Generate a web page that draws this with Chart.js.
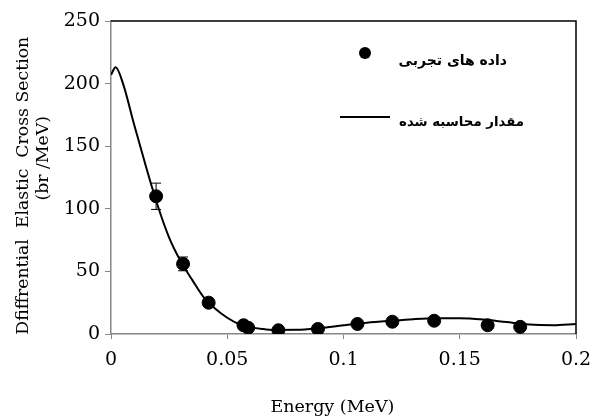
<!DOCTYPE html>
<html><head><meta charset="utf-8">
<script src="https://cdn.jsdelivr.net/npm/chart.js@4"></script>
<style>html,body{margin:0;padding:0;background:#fff}#c{display:block}</style>
</head><body>
<div style="width:590px;height:416px"><canvas id="c"></canvas></div>
<script>
const expEnergy = [0.0194, 0.031, 0.042, 0.057, 0.059, 0.072, 0.089, 0.106, 0.121, 0.139, 0.162, 0.176];
const expValues = [110, 56, 25, 7, 5, 3, 4, 8, 9.8, 10.6, 7, 5.7];
const expErrors = [10.5, 5.5, 2.5, 1, 1, 0.5, 0.5, 1, 1, 1, 1, 1];
const calcEnergy = [0, 0.002, 0.005, 0.01, 0.015, 0.02, 0.025, 0.03, 0.035, 0.04, 0.045, 0.05, 0.055, 0.06, 0.065, 0.07, 0.08, 0.09, 0.1, 0.11, 0.12, 0.13, 0.14, 0.15, 0.16, 0.17, 0.18, 0.19, 0.2];
const calcValues = [207, 213, 201, 167, 134, 103, 77, 58, 43, 29, 20, 13, 8, 5.5, 4, 3.2, 3.3, 4.8, 7, 9, 10.5, 11.8, 12.5, 12.5, 11.5, 9.5, 7.5, 7, 8];
const xTicks = [0, 0.05, 0.1, 0.15, 0.2];
const yTicks = [0, 50, 100, 150, 200, 250];
const legendLabels = ['داده های تجربی', 'مقدار محاسبه شده'];
const xTitle = 'Energy (MeV)\u00a0\u00a0\u00a0\u00a0';
const yTitle = ['Dfiffrential  Elastic  Cross Section\u00a0\u00a0\u00a0', '\u00a0\u00a0\u00a0\u00a0\u00a0\u00a0\u00a0(br /MeV)'];

const serif = "'DejaVu Serif', 'Liberation Serif', serif";

const extras = {
  id: 'extras',
  afterDatasetsDraw(chart) {
    const ctx = chart.ctx, xs = chart.scales.x, ys = chart.scales.y, a = chart.chartArea;
    ctx.save();
    ctx.strokeStyle = '#000'; ctx.lineWidth = 1;
    expEnergy.forEach((e, i) => {
      const px = xs.getPixelForValue(e);
      const t = ys.getPixelForValue(expValues[i] + expErrors[i]);
      const b = ys.getPixelForValue(expValues[i] - expErrors[i]);
      ctx.beginPath();
      ctx.moveTo(px, t); ctx.lineTo(px, b);
      ctx.moveTo(px - 5, t); ctx.lineTo(px + 5, t);
      ctx.moveTo(px - 5, b); ctx.lineTo(px + 5, b);
      ctx.stroke();
    });
    ctx.strokeStyle = '#000'; ctx.lineWidth = 1.5;
    ctx.beginPath();
    ctx.moveTo(a.left, a.top); ctx.lineTo(a.right, a.top); ctx.lineTo(a.right, a.bottom);
    ctx.stroke();
    ctx.fillStyle = '#000';
    ctx.textAlign = 'right'; ctx.textBaseline = 'middle';
    ctx.direction = 'rtl';
    ctx.font = "bold 14px 'DejaVu Sans', sans-serif";
    ctx.fillText(legendLabels[0], 507, 61);
    ctx.font = "bold 13.3px 'DejaVu Sans', sans-serif";
    ctx.fillText(legendLabels[1], 524, 123);
    ctx.beginPath(); ctx.arc(365, 53, 6, 0, Math.PI * 2); ctx.fill();
    ctx.lineWidth = 2;
    ctx.beginPath(); ctx.moveTo(340, 117); ctx.lineTo(390, 117); ctx.stroke();
    ctx.restore();
  }
};

new Chart(document.getElementById('c'), {
  type: 'scatter',
  data: {
    datasets: [
      {
        label: legendLabels[1],
        data: calcEnergy.map((e, i) => ({x: e, y: calcValues[i]})),
        showLine: true, borderColor: '#000', borderWidth: 2, pointRadius: 0,
        cubicInterpolationMode: 'monotone', fill: false
      },
      {
        label: legendLabels[0],
        data: expEnergy.map((e, i) => ({x: e, y: expValues[i]})),
        pointRadius: 6.5, pointBackgroundColor: '#000', pointBorderColor: '#000', showLine: false
      }
    ]
  },
  options: {
    responsive: true, maintainAspectRatio: false, animation: false,
    layout: {padding: {top: 21, right: 14, left: 0, bottom: 0}},
    plugins: {legend: {display: false}, tooltip: {enabled: false}},
    scales: {
      x: {
        type: 'linear', min: 0, max: 0.2,
        afterBuildTicks: s => { s.ticks = xTicks.map(v => ({value: v})); },
        ticks: {font: {family: serif, size: 19}, color: '#000', padding: 10, maxRotation: 0,
          callback: v => String(v)},
        grid: {display: true, drawOnChartArea: false, drawTicks: true, tickLength: 5, color: '#868686'},
        border: {display: true, color: '#868686', width: 1.5},
        title: {display: true, text: xTitle, font: {family: serif, size: 17.5, lineHeight: 1.0}, color: '#000', padding: {top: 4, bottom: 0}},
        afterFit: s => { s.height = 82; s.paddingLeft = 0; s.paddingRight = 0; }
      },
      y: {
        type: 'linear', min: 0, max: 250,
        afterBuildTicks: s => { s.ticks = yTicks.map(v => ({value: v})); },
        ticks: {font: {family: serif, size: 19}, color: '#000', padding: 5},
        grid: {display: true, drawOnChartArea: false, drawTicks: true, tickLength: 6, color: '#868686'},
        border: {display: true, color: '#868686', width: 1.5},
        title: {display: true, text: yTitle, font: {family: serif, size: 17.3, lineHeight: 1.15}, color: '#000', padding: {top: 14, bottom: 0}},
        afterFit: s => { s.width = 111; s.paddingTop = 0; s.paddingBottom = 0; }
      }
    }
  },
  plugins: [extras]
});
</script>
</body></html>
